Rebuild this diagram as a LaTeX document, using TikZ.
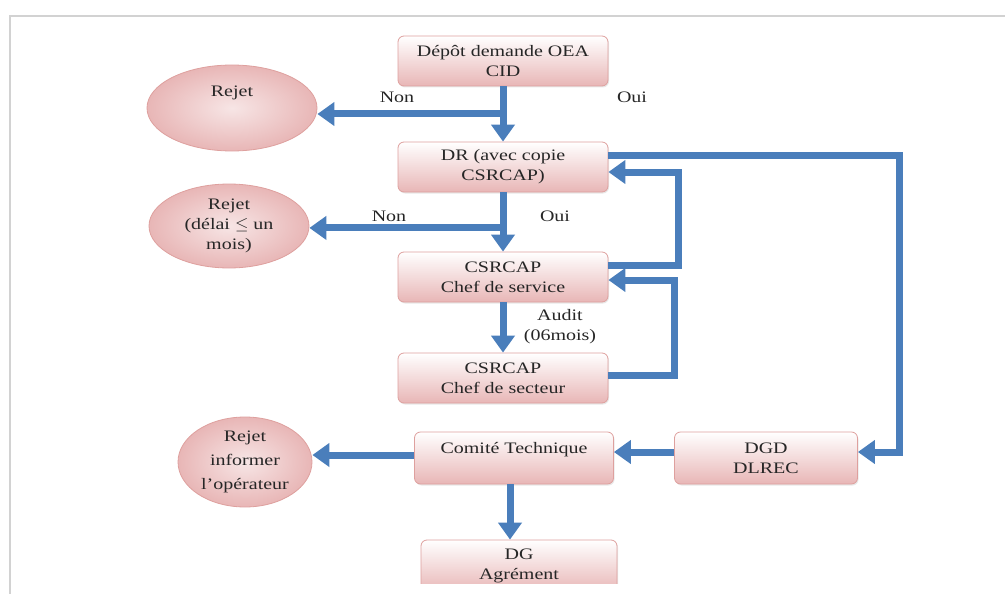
\documentclass[tikz,border=0pt]{standalone}
\usepackage{fontspec}
\setmainfont[FakeStretch=1.25]{Liberation Serif}
\usetikzlibrary{positioning,arrows.meta,calc,shapes.geometric,shadows}

\definecolor{flowblue}{RGB}{74,126,187}
\definecolor{boxpink}{RGB}{232,182,182}
\definecolor{boxline}{RGB}{222,160,158}

\tikzset{
    stepbox/.style={rectangle, rounded corners=6pt, draw=boxline, line width=0.8pt,
        top color=white, bottom color=boxpink, minimum width=210pt, minimum height=50pt,
        align=center, text=black!85, font=\fontsize{16}{20}\selectfont,
        drop shadow={opacity=0.18, shadow xshift=1pt, shadow yshift=-1.5pt}},
    rejet/.style={ellipse, draw=boxline, line width=0.8pt, inner sep=0pt,
        inner color=boxpink!35, outer color=boxpink, align=center,
        text=black!85, font=\fontsize{16}{20}\selectfont},
    flow/.style={draw=flowblue, line width=7pt,
        -{Triangle[length=17pt,width=23pt]}},
    lbl/.style={text=black!85, font=\fontsize{16}{20}\selectfont, align=center}
}

\begin{document}
\begin{tikzpicture}[x=1pt,y=-1pt]

\useasboundingbox (0,0) rectangle (1005,594);

% -------------------------
% Cadre
% -------------------------
\draw[gray!35, line width=1.5pt] (10,594) -- (10,16) -- (1005,16);

% -------------------------
% Boites
% -------------------------
\node[stepbox] (depot) at (503,61) {Dépôt demande OEA\\CID};
\node[stepbox] (dr) at (503,167) {DR (avec copie\\CSRCAP)};
\node[stepbox] (serv) at (503,277) {CSRCAP\\Chef de service};
\node[stepbox] (sect) at (503,378) {CSRCAP\\Chef de secteur};
\node[stepbox, minimum width=199pt, minimum height=52pt] (comite) at (514,458) {Comité Technique\\\mbox{}};
\node[stepbox, minimum width=183pt, minimum height=52pt] (dgd) at (766,458) {DGD\\DLREC};
\node[stepbox, minimum width=196pt, minimum height=52pt] (dg) at (519,566) {DG\\Agrément};
% bas de la page coupe la boite DG
\fill[white] (12,584) rectangle (1005,594);

% -------------------------
% Rejets
% -------------------------
\node[rejet, minimum width=170pt, minimum height=86pt] (rej1) at (232,108) {Rejet\\[14pt]\mbox{}};
\node[rejet, minimum width=160pt, minimum height=84pt] (rej2) at (229,226) {Rejet\\(délai $\leq$ un\\mois)};
\node[rejet, minimum width=134pt, minimum height=90pt, font=\fontsize{16}{24}\selectfont] (rej3) at (245,462) {Rejet\\informer\\l'opérateur};

% -------------------------
% Etiquettes
% -------------------------
\node[lbl] (non1) at (397,97) {Non};
\node[lbl] (oui1) at (632,97) {Oui};
\node[lbl] (non2) at (389,216) {Non};
\node[lbl] (oui2) at (555,216) {Oui};
\node[lbl] (audit) at (560,327) {Audit\\(06mois)};

% -------------------------
% Fleches principales
% -------------------------
\coordinate (split1) at ($(depot.south)!0.5!(dr.north)$);
\coordinate (split2) at ($(dr.south)!0.6!(serv.north)$);
\coordinate (out3) at ([yshift=3pt]comite.west);

\draw[flow] (depot.south) -- (dr.north);
\draw[flow] (split1) -- (split1 -| rej1.east);
\draw[flow] (dr.south) -- (serv.north);
\draw[flow] (split2) -- (split2 -| rej2.east);
\draw[flow] (serv.south) -- (sect.north);
\draw[flow] (out3) -- (out3 -| rej3.east);
\draw[flow] ([yshift=6pt]dgd.west) -- ([yshift=6pt]comite.east);
\draw[flow] ([xshift=-4pt]comite.south) -- ([xshift=-9pt]dg.north);

% -------------------------
% Retours
% -------------------------
\draw[flow] ([yshift=12pt]dr.east) -| ([xshift=42pt,yshift=6pt]dgd.east) -- ([yshift=6pt]dgd.east);
\draw[flow] ([yshift=12pt]serv.east) -| ([xshift=70pt,yshift=-5pt]dr.east) -- ([yshift=-5pt]dr.east);
\draw[flow] ([yshift=3pt]sect.east) -| ([xshift=66pt,yshift=-3pt]serv.east) -- ([yshift=-3pt]serv.east);

\end{tikzpicture}
\end{document}
